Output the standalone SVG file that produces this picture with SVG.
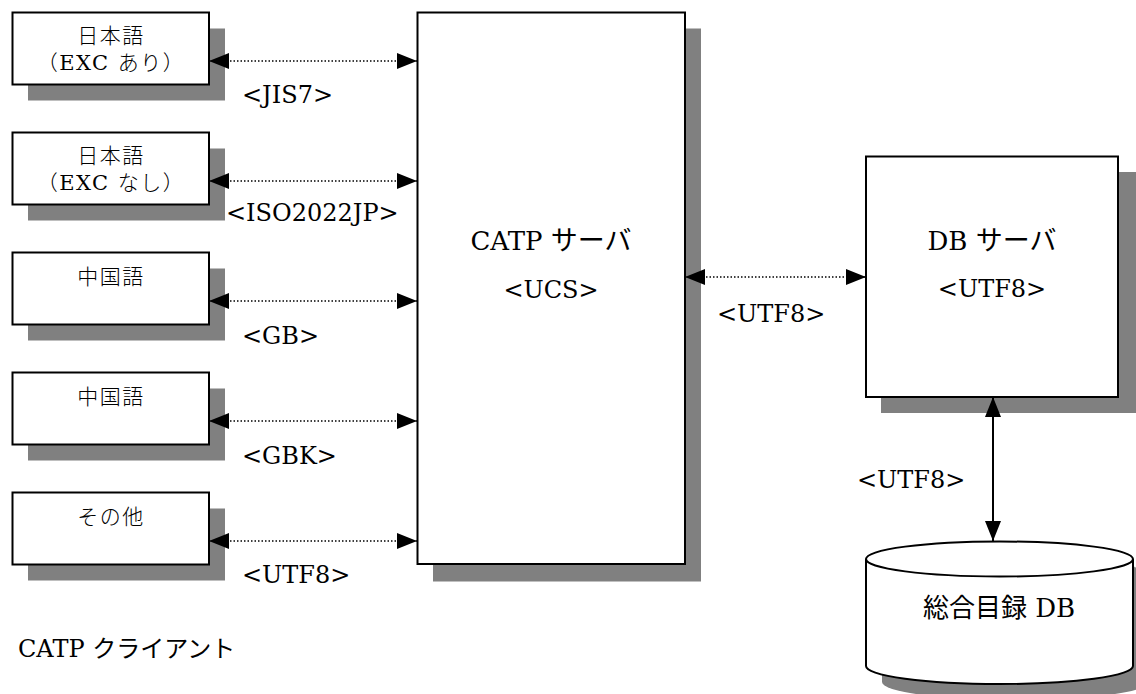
<svg xmlns="http://www.w3.org/2000/svg" width="1136" height="694" viewBox="0 0 1136 694">
<style>
  .box { fill: #ffffff; stroke: #000000; stroke-width: 2; }
  .shadow { fill: #808080; stroke: none; }
  .dot { stroke: #000000; stroke-width: 1.5; stroke-dasharray: 1.5 2; fill: none; }
  .solid { stroke: #000000; stroke-width: 2; fill: none; }
  .t { font-family: "DejaVu Serif", "Noto Sans CJK JP", serif; fill: #000000; }
  .small { font-size: 21px; text-anchor: middle; letter-spacing: 1.5px; font-weight: 300; }
  .lbl { font-size: 24px; }
  .big { font-size: 26px; text-anchor: middle; }
  .mid { text-anchor: middle; }
</style>
<defs>
  <marker id="ah" markerUnits="userSpaceOnUse" markerWidth="20" markerHeight="16" refX="20" refY="8" orient="auto-start-reverse" viewBox="0 0 20 16">
    <path d="M0,0 L20,8 L0,16 Z" fill="#000000" stroke="none"/>
  </marker>
</defs>
<rect width="1136" height="694" fill="#ffffff"/>

<g id="client-jis7">
  <rect class="shadow" x="28" y="28.5" width="197" height="72"/>
  <rect class="box" x="12.5" y="12.5" width="196.5" height="72"/>
  <text class="t small" x="111" y="43">日本語</text>
  <text class="t small" x="111" y="70">（EXC あり）</text>
</g>
<g id="client-iso2022jp">
  <rect class="shadow" x="28" y="148.5" width="197" height="72"/>
  <rect class="box" x="12.5" y="132.5" width="196.5" height="72"/>
  <text class="t small" x="111" y="163">日本語</text>
  <text class="t small" x="111" y="190">（EXC なし）</text>
</g>
<g id="client-gb">
  <rect class="shadow" x="28" y="268.5" width="197" height="72"/>
  <rect class="box" x="12.5" y="252.5" width="196.5" height="72"/>
  <text class="t small" x="111" y="284">中国語</text>
</g>
<g id="client-gbk">
  <rect class="shadow" x="28" y="388.5" width="197" height="72"/>
  <rect class="box" x="12.5" y="372.5" width="196.5" height="72"/>
  <text class="t small" x="111" y="404">中国語</text>
</g>
<g id="client-other">
  <rect class="shadow" x="28" y="508.5" width="197" height="72"/>
  <rect class="box" x="12.5" y="492.5" width="196.5" height="72"/>
  <text class="t small" x="111" y="524">その他</text>
</g>

<g id="catp-server">
  <rect class="shadow" x="433" y="28.5" width="268" height="553"/>
  <rect class="box" x="417.5" y="12.5" width="267.5" height="551.5"/>
  <text class="t big" x="551" y="250">CATP <tspan font-size="27">サーバ</tspan></text>
  <text class="t lbl mid" x="551" y="298">&lt;UCS&gt;</text>
</g>

<g id="db-server">
  <rect class="shadow" x="881" y="172" width="260" height="241"/>
  <rect class="box" x="866" y="156.5" width="252" height="240.5"/>
  <text class="t big" x="992" y="250">DB <tspan font-size="27">サーバ</tspan></text>
  <text class="t lbl mid" x="992" y="297">&lt;UTF8&gt;</text>
</g>

<g id="union-catalog-db">
  <path class="shadow" d="M882,575 L882,682 A133.5,18 0 0 0 1149,682 L1149,575 A133.5,17.5 0 0 0 882,575 Z"/>
  <path class="box" d="M866,559 L866,666 A133.5,18 0 0 0 1133,666 L1133,559 A133.5,17.5 0 0 0 866,559 Z"/>
  <path class="box" fill="none" d="M866,559 A133.5,17.5 0 0 0 1133,559"/>
  <text class="t big" x="999" y="617">総合目録 DB</text>
</g>

<g id="connectors">
  <line class="dot" x1="209" y1="61" x2="417" y2="61" marker-start="url(#ah)" marker-end="url(#ah)"/>
  <line class="dot" x1="209" y1="181" x2="417" y2="181" marker-start="url(#ah)" marker-end="url(#ah)"/>
  <line class="dot" x1="209" y1="301" x2="417" y2="301" marker-start="url(#ah)" marker-end="url(#ah)"/>
  <line class="dot" x1="209" y1="421" x2="417" y2="421" marker-start="url(#ah)" marker-end="url(#ah)"/>
  <line class="dot" x1="209" y1="541" x2="417" y2="541" marker-start="url(#ah)" marker-end="url(#ah)"/>
  <line class="dot" x1="685" y1="277" x2="866" y2="277" marker-start="url(#ah)" marker-end="url(#ah)"/>
  <line class="solid" x1="993" y1="397" x2="993" y2="541" marker-start="url(#ah)" marker-end="url(#ah)"/>
  <text class="t lbl" x="242" y="103">&lt;JIS7&gt;</text>
  <text class="t lbl" x="226" y="221">&lt;ISO2022JP&gt;</text>
  <text class="t lbl" x="242" y="344">&lt;GB&gt;</text>
  <text class="t lbl" x="242" y="464">&lt;GBK&gt;</text>
  <text class="t lbl" x="242" y="583">&lt;UTF8&gt;</text>
  <text class="t lbl" x="717" y="322">&lt;UTF8&gt;</text>
  <text class="t lbl" x="857" y="488">&lt;UTF8&gt;</text>
</g>

<text class="t lbl" x="18" y="657">CATP <tspan>クライアント</tspan></text>
</svg>
